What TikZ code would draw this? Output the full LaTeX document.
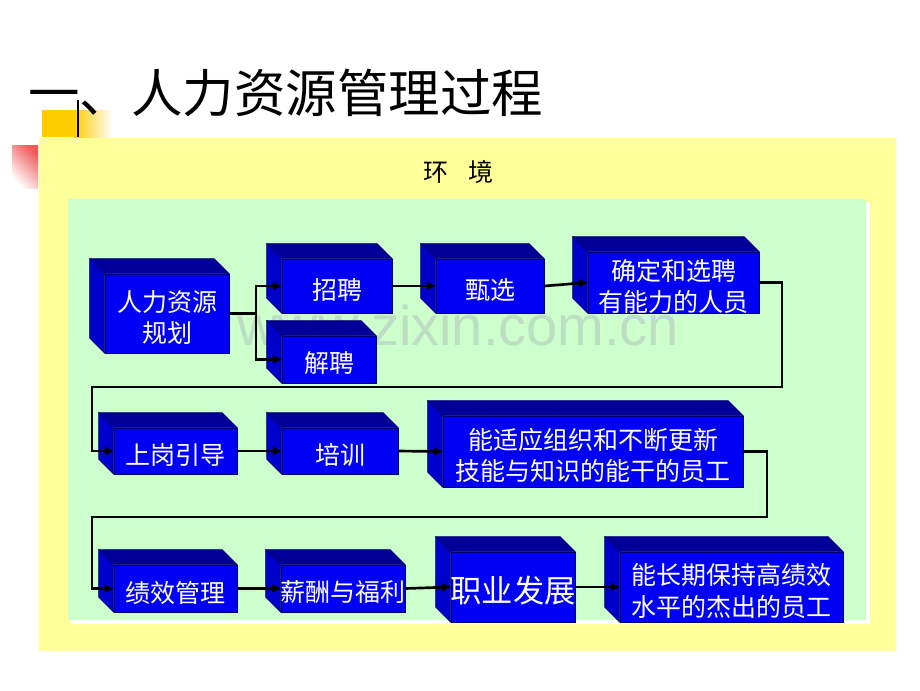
\documentclass[tikz,border=0pt]{standalone}
\usepackage{fontspec}
\setmainfont{Liberation Sans}
\newfontfamily\cjk{Noto Sans CJK SC}
\usetikzlibrary{arrows.meta}
\definecolor{panelY}{RGB}{255,255,153}
\definecolor{panelG}{RGB}{204,255,204}
\definecolor{frontB}{RGB}{0,0,245}
\definecolor{topB}{RGB}{0,0,153}
\definecolor{sideB}{RGB}{0,0,204}
\definecolor{edgeB}{RGB}{0,0,110}
\definecolor{goldY}{RGB}{255,204,0}
\definecolor{pinkR}{RGB}{240,90,90}
\definecolor{wmark}{RGB}{190,222,195}
\newcommand\cubenode[7][]{\node[cube,minimum width={(#5-#3)*0.75pt},minimum height={(#6-#4)*0.75pt},
  label={[boxtext,#1]center:#7}] (#2) at ({(#3+#5)/2},{(#4+#6)/2}) {};}
\begin{document}
\begin{tikzpicture}[x=0.75pt,y=-0.75pt,
  cube/.style={draw=edgeB,line width=0.4pt,fill=frontB,inner sep=0pt},
  boxtext/.style={inner sep=0pt,text=white,align=center,yshift=-3pt,
    font=\cjk\fontsize{18.75pt}{23.3pt}\selectfont},
  face/.style={draw=edgeB,line width=0.4pt},
  plain/.style={line width=2pt},
  conn/.style={line width=2pt,-{Triangle[length=6.5pt,width=5.5pt]}},
]
\useasboundingbox (0,0) rectangle (920,690);
\fill[white] (0,0) rectangle (920,690);
% decorations
\fill[goldY] (42,110) rectangle (74,137);
\shade[left color=goldY,right color=white] (73.5,110) rectangle (113,137);
\shade[top color=pinkR,bottom color=white,shading angle=-45] (12,145) rectangle (38,188);
% panels
\fill[panelY] (39,138) rectangle (896,651);
\fill[white] (71,202) rectangle (870,624);
\fill[panelG] (68,199) rectangle (866,620);
\draw[line width=1pt] (78,100) -- (78,137);
% title and labels
\node[anchor=west,inner sep=0pt,font=\cjk\fontsize{38.6pt}{40pt}\selectfont] (title) at (28,93) {一、人力资源管理过程};
\node[inner sep=0pt,font=\cjk\fontsize{18.75pt}{22.5pt}\selectfont] (env) at (458,172) {环\hspace{0.8em}境};
\node[anchor=base west,inner sep=0pt,text=wmark,font=\fontsize{42pt}{42pt}\selectfont] (wm) at (237,345) {www.zixin.com.cn};
% boxes
\cubenode{A}{105}{274}{229}{353}{人力资源\\规划}
\cubenode{B}{282}{259}{392}{313}{招聘}
\cubenode{C}{282}{336}{376}{383}{解聘}
\cubenode{D}{436}{259}{544}{313}{甄选}
\cubenode{E}{588}{252}{759}{313}{确定和选聘\\有能力的人员}
\cubenode{F}{114}{428}{237}{474}{上岗引导}
\cubenode{G}{282}{428}{398}{474}{培训}
\cubenode{H}{443}{416}{743}{487}{能适应组织和不断更新\\技能与知识的能干的员工}
\cubenode{I}{114}{565}{237}{612}{绩效管理}
\cubenode{J}{281}{565}{405}{612}{薪酬与福利}
\cubenode[font=\cjk\fontsize{23.5pt}{26pt}\selectfont]{K}{451}{552}{575}{622}{职业发展}
\cubenode{L}{620}{552}{843}{622}{能长期保持高绩效\\水平的杰出的员工}
\foreach \n in {A,B,C,D,E,F,G,H,I,J,K,L}{
  \filldraw[face,fill=topB] (\n.north west) -- ++(-15,-15) -- ([shift={(-15,-15)}]\n.north east) -- (\n.north east) -- cycle;
  \filldraw[face,fill=sideB] (\n.north west) -- ++(-15,-15) -- ([shift={(-15,-15)}]\n.south west) -- (\n.south west) -- cycle;
}
% connectors
\coordinate (j1) at (256,313.5);
\draw[plain] (A.east) -- (j1);
\draw[conn] (j1) |- (B.west);
\draw[conn] (j1) |- (C.west);
\draw[conn] (B.east) -- (D.west);
\draw[conn] (D.east) -- (E.west);
\coordinate (r1) at (782,387);
\coordinate (l1) at (92,387);
\draw[conn] (E.east) -| (r1) -- (l1) |- (F.west);
\draw[conn] (F.east) -- (G.west);
\draw[conn] (G.east) -- (H.west);
\coordinate (r2) at (767,517);
\coordinate (l2) at (92,517);
\draw[conn] (H.east) -| (r2) -- (l2) |- (I.west);
\draw[conn] (I.east) -- (J.west);
\draw[conn] (J.east) -- (K.west);
\draw[conn] (K.east) -- (L.west);
\end{tikzpicture}
\end{document}
